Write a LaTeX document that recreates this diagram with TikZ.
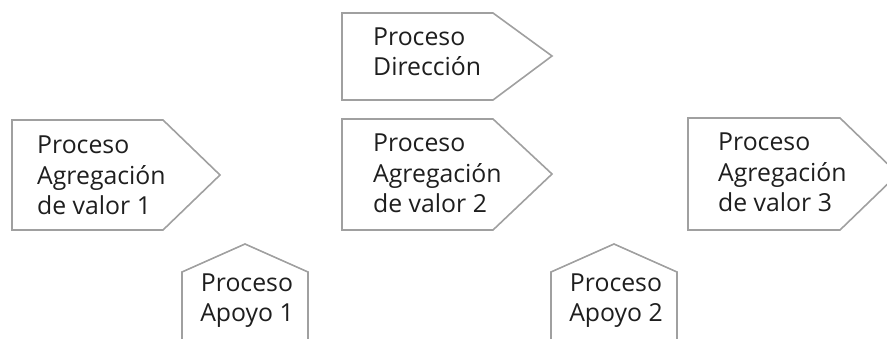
\documentclass[tikz,border=0pt]{standalone}
\usepackage{fontspec}
\setmainfont{Open Sans}
\definecolor{edgegray}{RGB}{160,160,160}
\definecolor{textblack}{RGB}{30,30,30}
\begin{document}
\begin{tikzpicture}[x=1pt,y=-1pt,
    procline/.style={draw=edgegray,line width=1.6pt,line join=miter},
    proctext/.style={anchor=base west,align=left,inner sep=0pt,text=textblack,
      font=\fontsize{24.8}{30.5}\selectfont}]
        \useasboundingbox (0,0) rectangle (887,339);
        % Direccion
        \draw[procline] (342,13) -- (493,13) -- (552,56) -- (493,100) -- (342,100) -- cycle;
        \node[proctext] (dir) at (373,76) {Proceso\\Dirección};
        % Agregacion de valor
        \draw[procline] (12,120) -- (163,120) -- (220,175) -- (163,230) -- (12,230) -- cycle;
        \node[proctext] (agr1) at (37,215) {Proceso\\Agregación\\de valor 1};
        \draw[procline] (342,119) -- (493,119) -- (552,174) -- (493,230) -- (342,230) -- cycle;
        \node[proctext] (agr2) at (373,213) {Proceso\\Agregación\\de valor 2};
        \draw[procline] (688,118) -- (840,118) -- (898,174) -- (840,230) -- (688,230) -- cycle;
        \node[proctext] (agr3) at (718,212) {Proceso\\Agregación\\de valor 3};
        % Apoyo
        \draw[procline] (182,350) -- (182,272) -- (245,244) -- (308,272) -- (308,350);
        \node[proctext,anchor=base,align=center] (apo1) at (247,322) {Proceso\\Apoyo 1};
        \draw[procline] (551,350) -- (551,272) -- (614,244) -- (677,272) -- (677,350);
        \node[proctext,anchor=base,align=center] (apo2) at (616,322) {Proceso\\Apoyo 2};
    \end{tikzpicture}
\end{document}
